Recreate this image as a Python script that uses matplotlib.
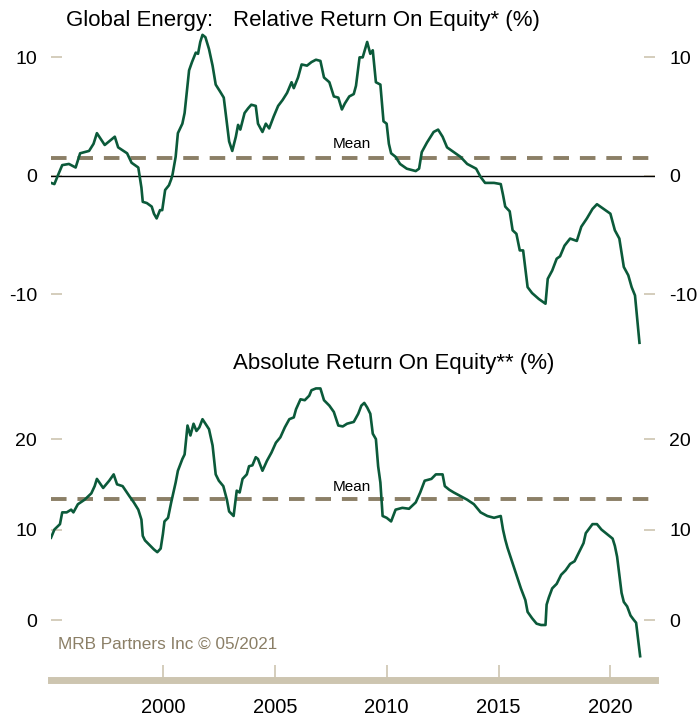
import matplotlib
matplotlib.use("Agg")
import matplotlib.pyplot as plt

plt.rcParams['font.family'] = ['Liberation Sans', 'DejaVu Sans']

# relative ROE (top panel), decimal years
rel_years = [1995.0, 1995.15, 1995.3, 1995.5, 1995.8, 1996.1, 1996.3, 1996.7, 1996.9, 1997.05,
             1997.4, 1997.85, 1998.0, 1998.4, 1998.6, 1998.9, 1999.04, 1999.1, 1999.28, 1999.5,
             1999.6, 1999.72, 1999.87, 1999.97, 2000.1, 2000.27, 2000.37, 2000.43, 2000.57, 2000.67,
             2000.87, 2000.97, 2001.17, 2001.3, 2001.47, 2001.57, 2001.67, 2001.77, 2001.9, 2002.06,
             2002.22, 2002.36, 2002.56, 2002.72, 2002.86, 2002.96, 2003.1, 2003.26, 2003.36, 2003.46,
             2003.65, 2003.81, 2003.95, 2004.15, 2004.25, 2004.45, 2004.6, 2004.75, 2004.95, 2005.15,
             2005.35, 2005.55, 2005.75, 2005.85, 2006.04, 2006.2, 2006.44, 2006.64, 2006.84, 2007.04,
             2007.2, 2007.44, 2007.64, 2007.84, 2008.0, 2008.13, 2008.33, 2008.53, 2008.63, 2008.79,
             2008.93, 2009.13, 2009.27, 2009.38, 2009.52, 2009.72, 2009.86, 2010.0, 2010.1, 2010.2,
             2010.4, 2010.6, 2010.9, 2011.3, 2011.45, 2011.57, 2011.8, 2012.1, 2012.3, 2012.5,
             2012.7, 2013.0, 2013.3, 2013.6, 2014.0, 2014.2, 2014.4, 2014.8, 2015.1, 2015.2,
             2015.3, 2015.5, 2015.63, 2015.8, 2015.95, 2016.1, 2016.3, 2016.5, 2016.8, 2017.1,
             2017.2, 2017.4, 2017.6, 2017.75, 2017.95, 2018.2, 2018.5, 2018.7, 2018.95, 2019.2,
             2019.4, 2019.7, 2020.0, 2020.2, 2020.4, 2020.6, 2020.8, 2020.95, 2021.1, 2021.3]
rel_values = [-0.6, -0.7, 0.0, 0.9, 1.0, 0.7, 1.9, 2.1, 2.7, 3.6,
              2.6, 3.3, 2.4, 1.9, 1.1, 0.7, -1.0, -2.2, -2.3, -2.6,
              -3.2, -3.6, -2.9, -2.9, -1.2, -0.8, -0.3, 0.1, 1.6, 3.6,
              4.4, 5.3, 8.9, 9.6, 10.4, 10.3, 11.3, 11.9, 11.7, 10.7,
              9.3, 7.7, 7.1, 6.6, 4.4, 2.9, 2.1, 3.3, 4.3, 3.9,
              5.3, 5.7, 6.0, 5.9, 4.4, 3.7, 4.4, 4.0, 5.0, 5.9,
              6.4, 7.0, 7.9, 7.4, 8.3, 9.4, 9.3, 9.6, 9.8, 9.7,
              8.3, 7.9, 6.7, 6.6, 5.6, 6.1, 6.7, 6.9, 7.6, 10.0,
              10.0, 11.3, 10.3, 10.6, 7.9, 7.7, 4.6, 4.4, 2.7, 1.9,
              1.6, 1.0, 0.6, 0.4, 0.6, 2.0, 2.8, 3.7, 3.9, 3.3,
              2.4, 2.0, 1.6, 1.0, 0.6, -0.1, -0.6, -0.6, -0.7, -1.6,
              -2.6, -3.0, -4.6, -4.9, -6.3, -6.3, -9.4, -9.9, -10.4, -10.8,
              -8.7, -8.0, -7.0, -6.8, -5.9, -5.3, -5.5, -4.3, -3.6, -2.8,
              -2.4, -2.8, -3.2, -4.6, -5.3, -7.7, -8.4, -9.4, -10.1, -14.1]
rel_mean = 1.5

# absolute ROE (bottom panel)
abs_years = [1995.0, 1995.15, 1995.4, 1995.5, 1995.7, 1995.9, 1996.0, 1996.2, 1996.5, 1996.8,
             1996.95, 1997.05, 1997.33, 1997.6, 1997.8, 1997.95, 1998.2, 1998.5, 1998.7, 1998.9,
             1999.04, 1999.1, 1999.2, 1999.4, 1999.6, 1999.75, 1999.9, 2000.0, 2000.07, 2000.23,
             2000.37, 2000.57, 2000.67, 2000.87, 2000.97, 2001.1, 2001.23, 2001.37, 2001.5, 2001.63,
             2001.77, 2001.9, 2002.06, 2002.22, 2002.36, 2002.5, 2002.7, 2002.86, 2002.96, 2003.16,
             2003.3, 2003.43, 2003.56, 2003.75, 2003.85, 2004.0, 2004.15, 2004.25, 2004.45, 2004.65,
             2004.85, 2005.05, 2005.25, 2005.45, 2005.65, 2005.85, 2005.95, 2006.15, 2006.34, 2006.54,
             2006.64, 2006.84, 2007.04, 2007.2, 2007.44, 2007.64, 2007.84, 2008.04, 2008.23, 2008.53,
             2008.73, 2008.87, 2009.0, 2009.13, 2009.27, 2009.38, 2009.52, 2009.62, 2009.72, 2009.82,
             2010.0, 2010.2, 2010.4, 2010.7, 2011.0, 2011.3, 2011.5, 2011.7, 2012.0, 2012.2,
             2012.5, 2012.6, 2012.8, 2013.0, 2013.3, 2013.6, 2013.9, 2014.2, 2014.5, 2014.8,
             2015.1, 2015.2, 2015.3, 2015.4, 2015.6, 2015.8, 2016.0, 2016.2, 2016.3, 2016.5,
             2016.7, 2016.9, 2017.1, 2017.15, 2017.25, 2017.4, 2017.6, 2017.8, 2018.0, 2018.2,
             2018.4, 2018.6, 2018.8, 2018.9, 2019.2, 2019.4, 2019.6, 2019.9, 2020.1, 2020.2,
             2020.3, 2020.4, 2020.5, 2020.6, 2020.75, 2020.9, 2021.05, 2021.15, 2021.33]
abs_values = [9.1, 10.0, 10.6, 11.9, 11.9, 12.2, 11.9, 12.8, 13.3, 14.0,
              14.8, 15.6, 14.6, 15.4, 16.1, 15.0, 14.8, 13.7, 13.0, 12.2,
              11.1, 9.3, 8.8, 8.3, 7.8, 7.5, 7.9, 9.5, 10.9, 11.3,
              13.0, 15.2, 16.5, 17.8, 18.3, 21.5, 20.4, 21.7, 20.9, 21.3,
              22.2, 21.7, 21.1, 19.3, 16.1, 15.4, 14.8, 13.3, 12.0, 11.5,
              14.3, 14.1, 15.6, 16.1, 17.0, 17.1, 18.0, 17.8, 16.5, 17.6,
              18.5, 19.6, 20.2, 21.3, 22.2, 22.4, 23.3, 24.4, 24.3, 24.8,
              25.4, 25.6, 25.6, 24.3, 23.7, 23.0, 21.5, 21.4, 21.7, 21.9,
              22.8, 23.7, 24.0, 23.5, 22.8, 20.6, 20.0, 17.0, 15.2, 11.5,
              11.3, 10.9, 12.2, 12.4, 12.3, 13.0, 14.1, 15.4, 15.6, 16.1,
              16.1, 14.8, 14.4, 14.1, 13.7, 13.3, 12.8, 11.9, 11.5, 11.3,
              11.5, 10.0, 8.9, 8.0, 6.5, 5.0, 3.5, 2.2, 0.9, 0.2,
              -0.4, -0.55, -0.55, 1.7, 2.5, 3.5, 4.0, 5.0, 5.5, 6.2,
              6.5, 7.5, 8.5, 9.6, 10.6, 10.6, 10.0, 9.4, 9.0, 8.2,
              7.0, 5.0, 3.0, 2.0, 1.5, 0.5, 0.0, -0.3, -4.0]
abs_mean = 13.4

x_ticks = [2000, 2005, 2010, 2015, 2020]
rel_yticks = [-10, 0, 10]
abs_yticks = [0, 10, 20]

line_color = '#0b5a3a'
tan = '#cdc5b0'
mean_color = '#8b7f66'
xlim = (1995.0, 2022.0)

fig = plt.figure(figsize=(7.0, 7.17), dpi=100)
ax1 = fig.add_axes([0.0729, 0.512, 0.863, 0.446])
ax2 = fig.add_axes([0.0729, 0.0516, 0.863, 0.418])


def style_y(ax, ticks):
    for s in ['top', 'left', 'right', 'bottom']:
        ax.spines[s].set_visible(False)
    ax.set_yticks(ticks)
    ax.set_yticklabels([str(t) for t in ticks])
    ax.tick_params(axis='y', which='both', direction='in', length=8, width=1.2,
                   color=tan, labelsize=14, pad=10, left=True, right=True,
                   labelleft=True, labelright=True)


# top panel
ax1.plot(rel_years, rel_values, color=line_color, lw=1.9, zorder=3)
ax1.axhline(0, color='black', lw=1.0, zorder=2)
ax1.axhline(rel_mean, color=mean_color, lw=2.8, dashes=(4, 2.8), zorder=1)
ax1.text(2008.45, rel_mean + 0.6, 'Mean', ha='center', va='bottom', fontsize=11)
ax1.set_xlim(*xlim)
ax1.set_ylim(-14.7, 12.3)
style_y(ax1, rel_yticks)
ax1.set_xticks([])

# bottom panel
ax2.plot(abs_years, abs_values, color=line_color, lw=1.9, zorder=3)
ax2.axhline(abs_mean, color=mean_color, lw=2.8, dashes=(4, 2.8), zorder=1)
ax2.text(2008.45, abs_mean + 0.5, 'Mean', ha='center', va='bottom', fontsize=11)
ax2.set_xlim(*xlim)
ax2.set_ylim(-6.63, 26.5)
style_y(ax2, abs_yticks)
ax2.spines['bottom'].set_visible(True)
ax2.spines['bottom'].set_color(tan)
ax2.spines['bottom'].set_linewidth(5)
ax2.set_xticks(x_ticks)
ax2.set_xticklabels([str(t) for t in x_ticks])
ax2.tick_params(axis='x', direction='in', length=11, width=1.2, color=tan,
                labelsize=14.5, pad=13)
ax2.text(1995.3, -2.7, 'MRB Partners Inc \u00a9 05/2021', color=mean_color,
         fontsize=12.3, ha='left', va='center')

fig.text(213 / 700, 0.972, 'Global Energy:', fontsize=16, ha='right', va='center')
fig.text(233 / 700, 0.972, 'Relative Return On Equity* (%)',
         fontsize=16, ha='left', va='center')
fig.text(233 / 700, 0.493, 'Absolute Return On Equity** (%)',
         fontsize=16, ha='left', va='center')

fig.savefig('out.png', dpi=100)
